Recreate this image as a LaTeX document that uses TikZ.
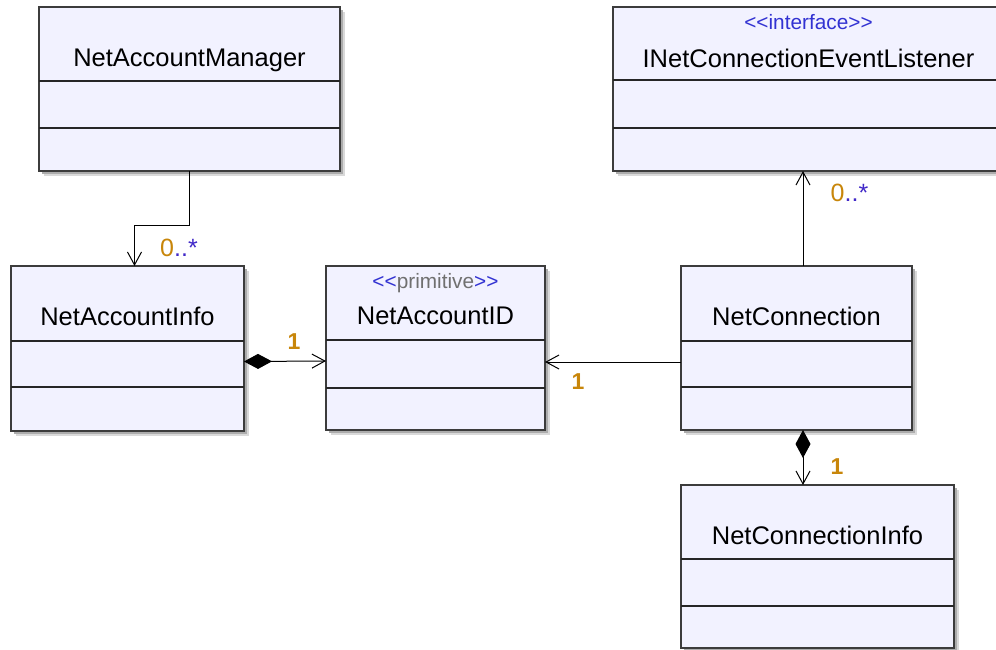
\documentclass[tikz,border=0pt]{standalone}
\usepackage{fontspec}
\setmainfont{Liberation Sans}
% plain family without TeX ligatures, so that << and >> stay as typed
\newfontfamily\stereofont{Liberation Sans}
\usetikzlibrary{arrows.meta,shadows}

\definecolor{classfill}{RGB}{242,242,255}
\definecolor{classline}{RGB}{60,60,60}
\definecolor{multorange}{RGB}{200,134,10}
\definecolor{multblue}{RGB}{64,40,200}
\definecolor{stereoblue}{RGB}{50,50,210}
\definecolor{stereogray}{RGB}{112,112,112}

\tikzset{
  classbox/.style={rectangle, draw=classline, line width=1.2pt, fill=classfill,
    anchor=north west, inner sep=0pt, outer sep=0pt,
    general shadow={shadow xshift=5pt, shadow yshift=-5pt, fill=gray!30},
    general shadow={shadow xshift=3pt, shadow yshift=-3pt, fill=gray!65}},
  divider/.style={draw=black!85, line width=1.1pt},
  classname/.style={anchor=base, inner sep=0pt, font=\fontsize{25.5}{30}\selectfont},
  stereotype/.style={anchor=base, inner sep=0pt, font=\stereofont\fontsize{20.8}{24}\selectfont, text=stereoblue},
  mult/.style={inner sep=0pt, font=\fontsize{25}{28}\selectfont},
  multone/.style={inner sep=0pt, anchor=base, text=multorange, font=\fontsize{23}{28}\selectfont\bfseries},
  assoc/.style={draw=black, line width=1pt,
    -{Straight Barb[length=13pt,width=14pt,line width=1pt]}},
  compo/.style={draw=black, line width=1pt,
    {Diamond[length=28pt,width=15pt]}-{Straight Barb[length=13pt,width=14pt,line width=1pt]}},
}

% horizontal compartment rules of a class box, #2 and #3 measured from its top
\newcommand\classrules[3]{%
  \draw[divider] ([yshift=-#2pt]#1.north west) -- ([yshift=-#2pt]#1.north east);
  \draw[divider] ([yshift=-#3pt]#1.north west) -- ([yshift=-#3pt]#1.north east);
}

\begin{document}
\begin{tikzpicture}[x=1pt, y=-1pt]
  \path[use as bounding box, fill=white] (0,0) rectangle (996,649);
  \clip (0,0) rectangle (996,649);

  % class boxes
  \node[classbox, minimum width=301pt, minimum height=164pt] (mgr) at (39,7) {};
  \node[classbox, minimum width=233pt, minimum height=165pt] (info) at (11,266) {};
  \node[classbox, minimum width=219pt, minimum height=164pt] (accid) at (326,266) {};
  \node[classbox, minimum width=231pt, minimum height=164pt] (conn) at (681,266) {};
  \node[classbox, minimum width=391pt, minimum height=164pt] (listener) at (613,7) {};
  \node[classbox, minimum width=273pt, minimum height=163pt] (conninfo) at (681,485) {};

  \classrules{mgr}{74}{121}
  \classrules{info}{75}{121}
  \classrules{accid}{74}{122}
  \classrules{conn}{75}{121}
  \classrules{listener}{73}{121}
  \classrules{conninfo}{74}{121}

  % class names and stereotypes
  \node[classname] (mgr-name) at ([yshift=-59pt]mgr.north) {NetAccountManager};
  \node[classname] (info-name) at ([yshift=-59pt]info.north) {NetAccountInfo};
  \node[classname] (accid-name) at ([yshift=-58pt]accid.north) {NetAccountID};
  \node[stereotype] (accid-st) at ([yshift=-22.5pt]accid.north)
    {<<\textcolor{stereogray}{primitive}>>};
  \node[classname] (conn-name) at ([yshift=-59pt]conn.north) {NetConnection};
  \node[classname] (listener-name) at ([yshift=-60pt]listener.north) {INetConnectionEventListener};
  \node[stereotype] (listener-st) at ([yshift=-22.5pt]listener.north) {<<interface>>};
  \node[classname] (conninfo-name) at ([yshift=-59pt]conninfo.north) {NetConnectionInfo};

  % associations
  \draw[assoc] (mgr.south) -- ([yshift=-54pt]mgr.south) -| ([xshift=7pt]info.north);
  \draw[compo] ([yshift=-13pt]info.east) -- ([yshift=-13pt]accid.west);
  \draw[assoc] ([yshift=-14pt]conn.west) -- ([yshift=-14pt]accid.east);
  \draw[assoc] ([xshift=6.5pt]conn.north) -- ([xshift=6.5pt]conn.north |- listener.south);
  \draw[compo] ([xshift=6.5pt]conn.south) -- ([xshift=6.5pt]conn.south |- conninfo.north);

  % multiplicities
  \node[mult, anchor=base west] (m-info) at (160,256.5)
    {\textcolor{multorange}{0}\textcolor{multblue}{..*}};
  \node[mult, anchor=base west] (m-listener) at (830.5,201.5)
    {\textcolor{multorange}{0}\textcolor{multblue}{..*}};
  \node[multone] (m-accid) at (294,349) {1};
  \node[multone] (m-conn) at (578,389) {1};
  \node[multone] (m-conninfo) at (837,474) {1};
\end{tikzpicture}
\end{document}
